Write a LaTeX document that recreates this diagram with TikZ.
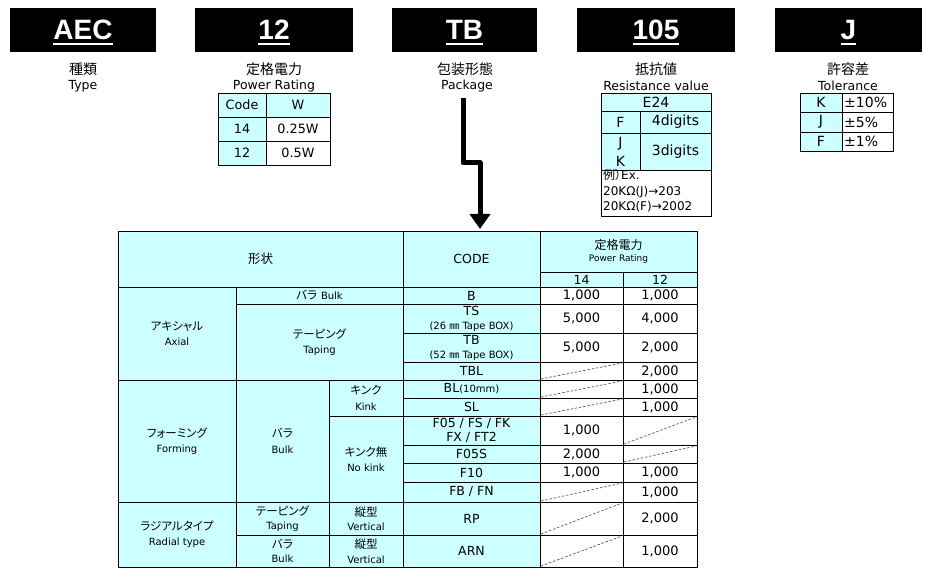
\documentclass[tikz,border=0pt]{standalone}
\usepackage{fontspec}
\setmainfont{DejaVu Sans}
\newfontfamily\jp{Noto Sans CJK JP}[RawFeature=+palt]
\newfontfamily\headfont{Liberation Sans}
\usetikzlibrary{positioning, calc, arrows.meta}
\definecolor{tblcyan}{RGB}{204,255,255}
\newcommand\fsz[2]{\fontsize{#1}{#2}\selectfont}
\newcommand\ulbox[1]{\setbox0\hbox{#1}\rlap{\copy0}\rule[-4.6pt]{\wd0}{2pt}}
\newcommand\jpt[1]{{\jp\fsz{11.5}{14}#1}}
\newcommand\ent[1]{{\fsz{10}{12}#1}}
\newcommand\smtxt[1]{{\fsz{9}{11}#1}}
\newcommand\tapetxt[1]{{\fsz{10}{12}#1}}

\begin{document}
\begin{tikzpicture}[x=1pt, y=-1pt,
  codebox/.style={fill=black, text=white, inner sep=0pt,
    minimum height=44pt, text height=20pt, text depth=0pt,
    font=\headfont\bfseries\fsz{28}{30}},
  jplabel/.style={inner sep=0pt, font=\jp\fsz{14}{16}},
  enlabel/.style={inner sep=0pt, font=\fsz{12.5}{15}},
  cyancell/.style={draw, fill=tblcyan, line width=0.8pt},
  whitecell/.style={draw, fill=white, line width=0.8pt},
  celltext/.style={align=center, inner sep=0pt, font=\fsz{12.5}{15.5}},
  smalltab/.style={celltext, font=\fsz{12.8}{15}},
  midtab/.style={celltext, font=\fsz{14}{17}},
  numtext/.style={inner sep=0pt, font=\fsz{13}{15}},
  emptycell/.style={draw=black!65, dash pattern=on 2.5pt off 1.8pt, line width=0.7pt},
  bigarrow/.style={line width=5pt, line join=round, -{Triangle[width=20pt, length=15pt]}}
]
\useasboundingbox (0,0) rectangle (931,577);

% part number blocks
\node[codebox, minimum width=146pt] (aec) at (83,30) {\ulbox{AEC}};
\node[codebox, minimum width=158pt] (pwr) at (274,30) {\ulbox{12}};
\node[codebox, minimum width=145pt] (pkg) at (464.5,30) {\ulbox{TB}};
\node[codebox, minimum width=158pt] (res) at (656,30) {\ulbox{105}};
\node[codebox, minimum width=147pt] (tol) at (848.5,30) {\ulbox{J}};

\node[jplabel] (aecjp) at (83,69) {種類};
\node[enlabel] (aecen) at (83,86) {Type};
\node[jplabel] (pwrjp) at (274,69) {定格電力};
\node[enlabel] (pwren) at (274,86) {Power Rating};
\node[jplabel] (pkgjp) at (465,69) {包装形態};
\node[enlabel] (pkgen) at (467,86) {Package};
\node[jplabel] (resjp) at (656,69) {抵抗値};
\node[enlabel] (resen) at (656,86) {Resistance value};
\node[jplabel] (toljp) at (848,69) {許容差};
\node[enlabel] (tolen) at (848,86) {Tolerance};

% power rating table
\foreach \xa/\ya/\xb/\yb/\txt [count=\i] in {218/93/266/117/Code, 266/93/330/117/W,
    218/117/266/141/14, 218/141/266/165/12}
{
  \draw[cyancell] (\xa,\ya) rectangle (\xb,\yb);
  \node[smalltab] (pw\i) at ($(\xa,\ya)!.5!(\xb,\yb)$) {\txt};
}
\foreach \xa/\ya/\xb/\yb/\txt [count=\i] in {266/117/330/141/0.25W, 266/141/330/165/0.5W}
{
  \draw[whitecell] (\xa,\ya) rectangle (\xb,\yb);
  \node[smalltab] (pwv\i) at ($(\xa,\ya)!.5!(\xb,\yb)$) {\txt};
}

% resistance table
\foreach \xa/\ya/\xb/\yb/\txt [count=\i] in {601/93/711/111/E24, 601/111/640/133/F,
    640/111/711/133/4digits, 601/133/640/170/{J\\[2pt]K}, 640/133/711/170/3digits}
{
  \draw[cyancell] (\xa,\ya) rectangle (\xb,\yb);
  \node[midtab] (rs\i) at ($(\xa,\ya)!.5!(\xb,\yb)$) {\txt};
}
\draw[whitecell] (601,170) rectangle (711,216);
\node[anchor=north west, align=left, inner sep=0pt, font=\fsz{12}{15.5}] (resex) at (603,169.5)
  {{\jp 例）}Ex.\\20KΩ(J)→203\\20KΩ(F)→2002};

% tolerance table
\foreach \ya/\yb/\code/\val [count=\i] in {93/112/K/±10\%, 112/132/J/±5\%, 132/151/F/±1\%}
{
  \draw[cyancell] (800,\ya) rectangle (842,\yb);
  \draw[whitecell] (842,\ya) rectangle (893,\yb);
  \node[midtab] (tc\i) at (821,{(\ya+\yb)/2}) {\code};
  \node[midtab, anchor=west] (tv\i) at (844,{(\ya+\yb)/2}) {\val};
}

% shape / code table
\foreach \xa/\ya/\xb/\yb/\txt [count=\i] in {
    118/231/403/287/{{\jp 形状}},
    403/231/540/287/CODE,
    540/231/697/272/{{\jp\fsz{12}{14}定格電力}\\[-3.5pt]\smtxt{Power Rating}},
    540/272/623/287/14, 623/272/697/287/12,
    118/287/236/380/{\jpt{アキシャル}\\\ent{Axial}},
    236/287/403/304/{\jpt{バラ} \ent{Bulk}},
    236/304/403/380/{\jpt{テーピング}\\\ent{Taping}},
    118/380/236/502/{\jpt{フォーミング}\\\ent{Forming}},
    236/380/329/502/{\jpt{バラ}\\\ent{Bulk}},
    329/380/403/416/{\jpt{キンク}\\\ent{Kink}},
    329/416/403/502/{\jpt{キンク無}\\\ent{No kink}},
    118/502/236/567/{\jpt{ラジアルタイプ}\\\ent{Radial type}},
    236/502/329/535/{\jpt{テーピング}\\[-1pt]\ent{Taping}},
    329/502/403/535/{\jpt{縦型}\\[-1pt]\ent{Vertical}},
    236/535/329/567/{\jpt{バラ}\\[-1pt]\ent{Bulk}},
    329/535/403/567/{\jpt{縦型}\\[-1pt]\ent{Vertical}},
    403/287/540/304/B,
    403/304/540/333/{TS\\[-1.5pt]\tapetxt{(26 {\jp ㎜} Tape BOX)}},
    403/333/540/362/{TB\\[-1.5pt]\tapetxt{(52 {\jp ㎜} Tape BOX)}},
    403/362/540/380/TBL,
    403/380/540/398/{BL\tapetxt{(10mm)}},
    403/398/540/416/SL,
    403/416/540/445/{F05 / FS / FK\\[-1pt]FX / FT2},
    403/445/540/463/F05S,
    403/463/540/482/F10,
    403/482/540/502/{FB / FN},
    403/502/540/535/RP,
    403/535/540/567/ARN}
{
  \draw[cyancell] (\xa,\ya) rectangle (\xb,\yb);
  \node[celltext] (sh\i) at ($(\xa,\ya)!.5!(\xb,\yb)$) {\txt};
}

% quantities
\foreach \ya/\yb/\va/\vb [count=\i] in {287/304/{1,000}/{1,000}, 304/333/{5,000}/{4,000},
    333/362/{5,000}/{2,000}, 362/380/{}/{2,000}, 380/398/{}/{1,000}, 398/416/{}/{1,000},
    416/445/{1,000}/{}, 445/463/{2,000}/{}, 463/482/{1,000}/{1,000}, 482/502/{}/{1,000},
    502/535/{}/{2,000}, 535/567/{}/{1,000}}
{
  \draw[whitecell] (540,\ya) rectangle (623,\yb);
  \draw[whitecell] (623,\ya) rectangle (697,\yb);
  \node[numtext] (qa\i) at (581.5,{(\ya+\yb)/2}) {\va};
  \node[numtext] (qb\i) at (660,{(\ya+\yb)/2}) {\vb};
}
\foreach \xa/\xb/\ya/\yb in {540/623/362/380, 540/623/380/398, 540/623/398/416,
    623/697/416/445, 623/697/445/463, 540/623/482/502, 540/623/502/535, 540/623/535/567}
  \draw[emptycell] (\xa+1,\yb-1) -- (\xb-1,\ya+1);

% package arrow
\coordinate (arrfrom) at (463,98);
\coordinate (arrbend) at (480,163);
\coordinate (arrto) at (480,229);
\draw[bigarrow] (arrfrom) |- (arrbend) -- (arrto);
\end{tikzpicture}
\end{document}
